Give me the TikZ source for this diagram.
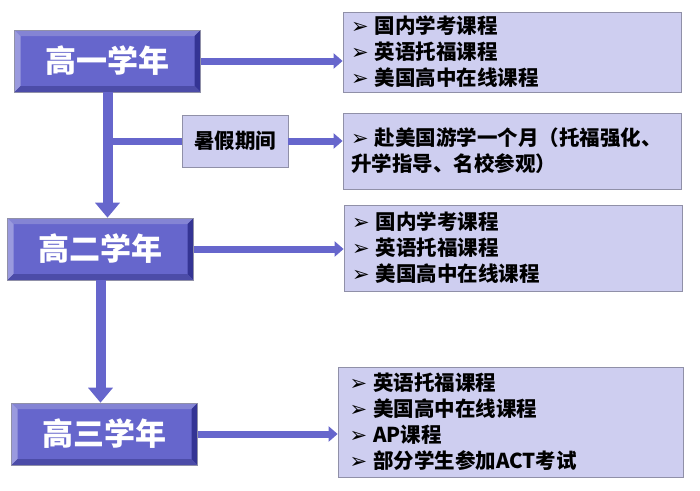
\documentclass[tikz,border=0pt]{standalone}
\usepackage{fontspec}
\newfontfamily\cjk{Noto Sans CJK SC}
\newfontfamily\symfont{DejaVu Sans}
\usetikzlibrary{arrows.meta,calc}
\definecolor{face}{HTML}{6666CC}
\definecolor{bevlight}{HTML}{9A9ADE}
\definecolor{bevtop}{HTML}{8484D4}
\definecolor{bevdark}{HTML}{343494}
\definecolor{bevbot}{HTML}{4C4CA8}
\definecolor{lav}{HTML}{CECEF0}
\definecolor{rim}{HTML}{9090A8}
\newcommand\bul{{\symfont\fontsize{21}{26}\selectfont ➢}\hspace{6pt}}

\begin{document}
\begin{tikzpicture}[x=1pt,y=-1pt,
    yearbox/.style={minimum width=186pt,minimum height=62pt,fill=face,draw=rim,line width=0.6pt,
      text=white,font=\cjk\bfseries\fontsize{31}{32}\selectfont,
      path picture={
        \coordinate (nw) at (path picture bounding box.north west);
        \coordinate (ne) at (path picture bounding box.north east);
        \coordinate (sw) at (path picture bounding box.south west);
        \coordinate (se) at (path picture bounding box.south east);
        \fill[bevtop] (nw) -- (ne) -- ([shift={(-6pt,-6pt)}]ne) -- ([shift={(6pt,-6pt)}]nw) -- cycle;
        \fill[bevlight] (nw) -- (sw) -- ([shift={(6pt,6pt)}]sw) -- ([shift={(6pt,-6pt)}]nw) -- cycle;
        \fill[bevdark] (ne) -- (se) -- ([shift={(-6pt,6pt)}]se) -- ([shift={(-6pt,-6pt)}]ne) -- cycle;
        \fill[bevbot] (sw) -- (se) -- ([shift={(-6pt,6pt)}]se) -- ([shift={(6pt,6pt)}]sw) -- cycle;}},
    infobox/.style={fill=lav,draw=rim,line width=0.8pt,minimum width=338pt,text width=322pt,
      align=left,inner xsep=8pt,font=\cjk\bfseries\fontsize{20.5}{26}\selectfont},
    varrow/.style={face,line width=10pt,-{Triangle[width=24pt,length=15pt]}},
    harrow/.style={face,line width=7pt,-{Triangle[width=15pt,length=9pt]}},
    hline/.style={face,line width=7pt}]
  \useasboundingbox (0,0) rectangle (700,490);
  % the three school years, top to bottom
  \foreach \X/\PX/\PY [count=\Y,remember=\Y as \LastY] in
    {高一学年/107.5/61,高二学年/100.5/249,高三学年/104.5/434}
   {\node[yearbox] (Y-\Y) at (\PX,\PY) {\X};
    \ifnum\Y>1
      \draw[varrow] (Y-\LastY.south) -- (Y-\LastY.south |- Y-\Y.north);
    \fi}
  % summer break
  \node[fill=lav,draw=rim,line width=0.8pt,minimum width=106pt,minimum height=52pt,
    font=\cjk\bfseries\fontsize{20.5}{22}\selectfont] (S) at (235,141) {暑假期间};
  % course lists
  \node[infobox,minimum height=80pt] (I-1) at (512,52)
    {\bul 国内学考课程\\ \bul 英语托福课程\\ \bul 美国高中在线课程};
  \node[infobox,minimum height=76pt] (I-2) at (512,151)
    {\bul 赴美国游学一个月（托福强化、\\ 升学指导、名校参观）};
  \node[infobox,minimum height=86pt] (I-3) at (513,248)
    {\bul 国内学考课程\\ \bul 英语托福课程\\ \bul 美国高中在线课程};
  \node[infobox,minimum width=345pt,minimum height=110pt] (I-4) at (510.5,422)
    {\bul 英语托福课程\\ \bul 美国高中在线课程\\ \bul AP课程\\ \bul 部分学生参加ACT考试};
  % connectors
  \draw[hline] (Y-1.south |- S.west) -- (S.west);
  \draw[harrow] (S.east) -- (S.east -| I-2.west);
  \foreach \Y/\I in {1/1,2/3,3/4}
    \draw[harrow] (Y-\Y.east) -- (Y-\Y.east -| I-\I.west);
\end{tikzpicture}
\end{document}
